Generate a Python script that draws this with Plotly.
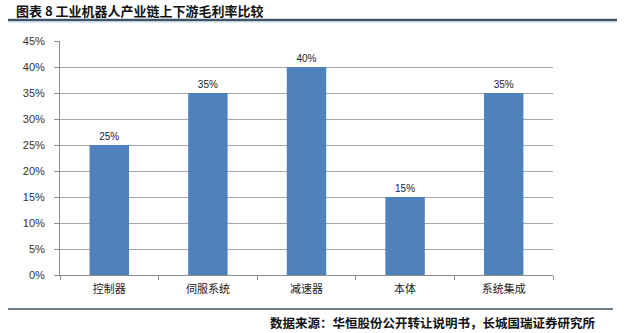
import plotly.graph_objects as go

categories = ["控制器", "伺服系统", "减速器", "本体", "系统集成"]
margins = [0.25, 0.35, 0.40, 0.15, 0.35]
y_ticks = [0, 0.05, 0.10, 0.15, 0.20, 0.25, 0.30, 0.35, 0.40, 0.45]
y_labels = ["0%", "5%", "10%", "15%", "20%", "25%", "30%", "35%", "40%", "45%"]
title_text = "图表 8 工业机器人产业链上下游毛利率比较"
source_text = "数据来源：华恒股份公开转让说明书，长城国瑞证券研究所"

L, R, T, B = 60, 553, 41, 275
W, H = 640, 333
def px(x):
    return (x - L) / (R - L)
def py(y):
    return (B - y) / (B - T)

fig = go.Figure(go.Bar(
    x=categories, y=margins,
    marker=dict(color="#4f81bd", line=dict(width=0)),
    text=[f"{int(round(v*100))}%" for v in margins],
    textposition="outside",
    textfont=dict(family="Liberation Sans, Arial", size=10, color="#222222"),
    cliponaxis=False,
    width=0.4,
))

fig.update_layout(
    width=W, height=H,
    margin=dict(l=L, r=W - R, t=T, b=H - B),
    paper_bgcolor="white", plot_bgcolor="white",
    showlegend=False,
    font=dict(family="Liberation Sans, Arial", color="#333333"),
    xaxis=dict(
        showline=True, linecolor="#8c8c8c", linewidth=1,
        ticks="outside", tickson="boundaries", ticklen=4, tickcolor="#8c8c8c",
        tickfont=dict(family="Noto Sans CJK SC", size=11, color="#222222"),
        ticklabelstandoff=4,
        showgrid=False,
    ),
    yaxis=dict(
        range=[0, 0.45], tickvals=y_ticks, ticktext=y_labels,
        showline=True, linecolor="#8c8c8c", linewidth=1,
        ticks="outside", ticklen=5, tickcolor="#8c8c8c",
        ticklabelstandoff=7,
        showgrid=True, gridcolor="#a6a6a6", gridwidth=1,
        tickfont=dict(family="Liberation Sans, Arial", size=11, color="#333333"),
        zeroline=False,
    ),
    shapes=[
        dict(type="line", xref="paper", yref="paper", x0=px(8), x1=px(617), y0=py(20), y1=py(20),
             line=dict(color="#3e5366", width=2.5)),
        dict(type="line", xref="paper", yref="paper", x0=px(8), x1=px(617), y0=py(22), y1=py(22),
             line=dict(color="#bcd3e8", width=1)),
        dict(type="line", xref="paper", yref="paper", x0=px(8), x1=px(613), y0=py(309), y1=py(309),
             line=dict(color="#3e5366", width=1.5)),
    ],
    annotations=[
        dict(text=f"<b>{title_text}</b>", xref="paper", yref="paper", x=px(14), y=py(10),
             xanchor="left", yanchor="middle", showarrow=False,
             font=dict(family="Noto Sans CJK SC", size=13, color="#111111")),
        dict(text=f"<b>{source_text}</b>", xref="paper", yref="paper", x=px(598), y=py(322),
             xanchor="right", yanchor="middle", showarrow=False,
             font=dict(family="Noto Sans CJK SC", size=12.5, color="#111111")),
    ],
)

fig.write_html("out.html")
